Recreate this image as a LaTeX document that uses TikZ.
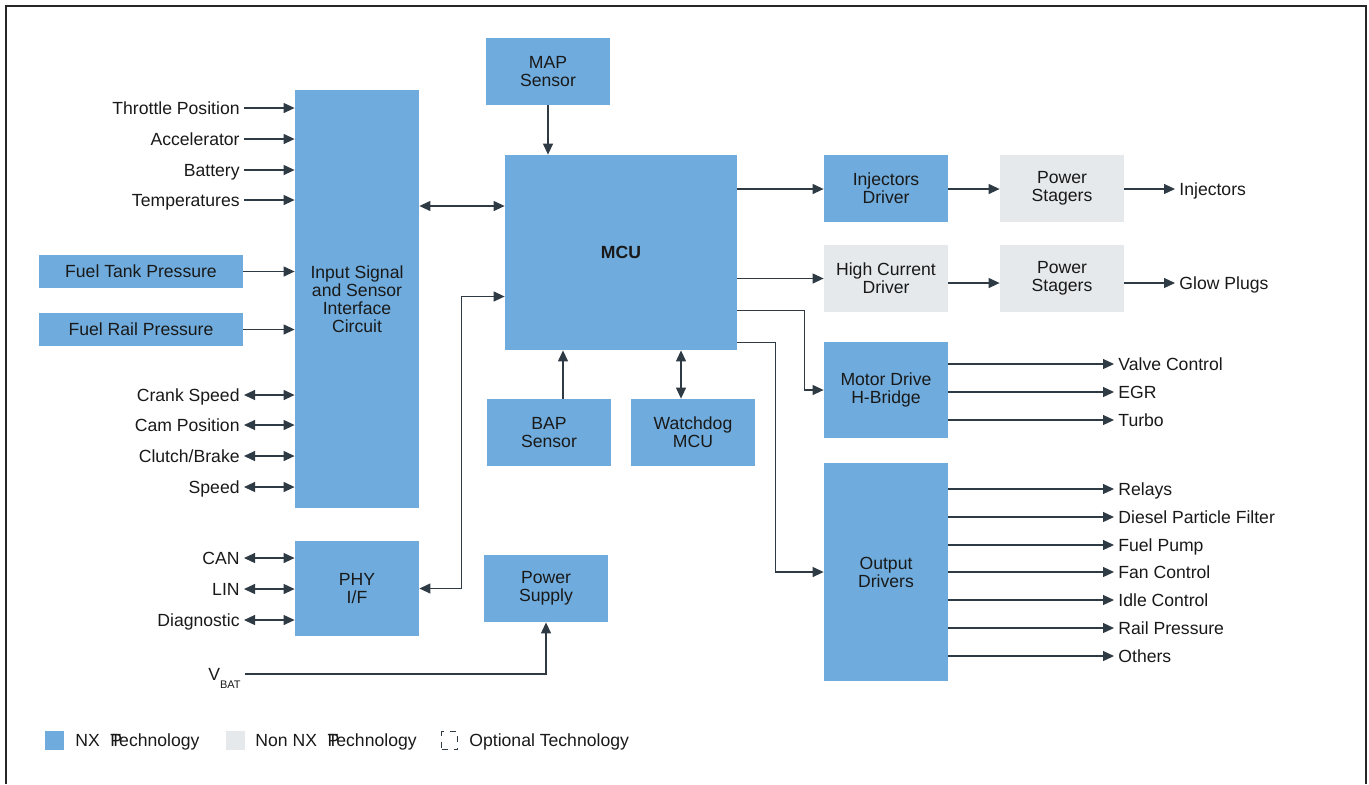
\documentclass[tikz,border=0pt]{standalone}
\usepackage{fontspec}
\setmainfont{Liberation Sans}
\usetikzlibrary{arrows.meta}
\definecolor{nxblue}{RGB}{111,172,221}
\definecolor{nongray}{RGB}{229,233,236}
\definecolor{wire}{RGB}{46,58,68}

\begin{document}
\begin{tikzpicture}[x=0.5pt,y=-0.5pt,>={Triangle[length=5.5pt,width=5pt]},
  every node/.append style={font=\fontsize{8.8}{9}\selectfont,text=black!90},
  blk/.style={fill=nxblue,inner sep=0pt,align=center,minimum width=62pt,minimum height=33.5pt},
  gblk/.style={blk,fill=nongray},
  lbl/.style={inner sep=2pt,text height=6.3pt,text depth=0pt},
  wires/.style={draw=wire,line width=0.6pt}]
  \useasboundingbox (0,0) rectangle (1369,784);
  \draw[line width=1.2pt,black!85] (6,784) -- (6,6) -- (1366,6) -- (1366,784);

  % blocks
  \node[blk] (map) at (548,71.5) {MAP\\Sensor};
  \node[blk,minimum height=209pt] (insig) at (357,299) {Input Signal\\and Sensor\\Interface\\Circuit};
  \node[blk,minimum width=116pt,minimum height=97.5pt] (mcu) at (621,252.5) {\textbf{MCU}};
  \node[blk] (injdrv) at (886,188.5) {Injectors\\Driver};
  \node[gblk] (stage1) at (1062,188.5) {Power\\Stagers};
  \node[gblk] (hcdrv) at (886,278.5) {High Current\\Driver};
  \node[gblk] (stage2) at (1062,278.5) {Power\\Stagers};
  \node[blk,minimum height=48pt] (motor) at (886,390) {Motor Drive\\H-Bridge};
  \node[blk,minimum height=109pt] (outdrv) at (886,572) {Output\\Drivers};
  \node[blk] (bap) at (549,432.5) {BAP\\Sensor};
  \node[blk] (wdog) at (693,432.5) {Watchdog\\MCU};
  \node[blk,minimum height=47.5pt] (phy) at (357,588.5) {PHY\\I/F};
  \node[blk] (psu) at (546,588.5) {Power\\Supply};
  \node[blk,minimum width=102pt,minimum height=16.5pt] (tank) at (141,271.5) {Fuel Tank Pressure};
  \node[blk,minimum width=102pt,minimum height=16.5pt] (rail) at (141,329.5) {Fuel Rail Pressure};

  % inputs
  \node[lbl,anchor=east] (throttle) at (244,108) {Throttle Position};
  \node[lbl,anchor=east] (accel) at (244,139) {Accelerator};
  \node[lbl,anchor=east] (batt) at (244,170) {Battery};
  \node[lbl,anchor=east] (temps) at (244,200) {Temperatures};
  \node[lbl,anchor=east] (crank) at (244,395) {Crank Speed};
  \node[lbl,anchor=east] (cam) at (244,425) {Cam Position};
  \node[lbl,anchor=east] (clutch) at (244,456) {Clutch/Brake};
  \node[lbl,anchor=east] (speed) at (244,487) {Speed};
  \node[lbl,anchor=east] (can) at (244,558) {CAN};
  \node[lbl,anchor=east] (lin) at (244,589) {LIN};
  \node[lbl,anchor=east] (diag) at (244,620) {Diagnostic};
  \node[lbl,anchor=east] (vbat) at (245,674) {V\raisebox{-0.9ex}{\fontsize{5.5}{6}\selectfont BAT}};

  \draw[wires,->] (throttle.east) -- (throttle.east -| insig.west);
  \draw[wires,->] (accel.east) -- (accel.east -| insig.west);
  \draw[wires,->] (batt.east) -- (batt.east -| insig.west);
  \draw[wires,->] (temps.east) -- (temps.east -| insig.west);
  \draw[wires,->] (tank.east) -- (tank.east -| insig.west);
  \draw[wires,->] (rail.east) -- (rail.east -| insig.west);
  \draw[wires,<->] (crank.east) -- (crank.east -| insig.west);
  \draw[wires,<->] (cam.east) -- (cam.east -| insig.west);
  \draw[wires,<->] (clutch.east) -- (clutch.east -| insig.west);
  \draw[wires,<->] (speed.east) -- (speed.east -| insig.west);
  \draw[wires,<->] (can.east) -- (can.east -| phy.west);
  \draw[wires,<->] (lin.east) -- (lin.east -| phy.west);
  \draw[wires,<->] (diag.east) -- (diag.east -| phy.west);
  \draw[wires,->] (vbat.east) -| (psu.south);

  % around the MCU
  \coordinate (mcuin) at ([yshift=23.25pt]mcu.west);
  \coordinate (mcuphy) at ([yshift=-22pt]mcu.west);
  \coordinate (mcumot) at ([yshift=-29pt]mcu.east);
  \coordinate (mcuout) at ([yshift=-45pt]mcu.east);
  \coordinate (bapup) at ([xshift=7pt]bap.north);
  \coordinate (wdup) at ([xshift=-6pt]wdog.north);
  \draw[wires,<->] (mcuin -| insig.east) -- (mcuin);
  \draw[wires,->] (map.south) -- (map.south |- mcu.north);
  \draw[wires,->] (bapup) -- (bapup |- mcu.south);
  \draw[wires,<->] (wdup) -- (wdup |- mcu.south);
  \draw[wires,<->] (phy.east) -- ++(42,0) |- (mcuphy);
  \draw[wires,->] (mcumot) -- ++(67,0) |- (motor.west);
  \draw[wires,->] (mcuout) -- ++(38,0) |- (outdrv.west);

  % outputs
  \node[lbl,anchor=west] (injout) at (1175,189) {Injectors};
  \node[lbl,anchor=west] (glow) at (1175,283) {Glow Plugs};
  \draw[wires,->] (injout.west -| mcu.east) -- (injout.west -| injdrv.west);
  \draw[wires,->] (injout.west -| injdrv.east) -- (injout.west -| stage1.west);
  \draw[wires,->] (injout.west -| stage1.east) -- (injout.west);
  \draw[wires,->] (hcdrv.west -| mcu.east) -- (hcdrv.west);
  \draw[wires,->] (glow.west -| hcdrv.east) -- (glow.west -| stage2.west);
  \draw[wires,->] (glow.west -| stage2.east) -- (glow.west);

  \node[lbl,anchor=west] (valve) at (1114,364) {Valve Control};
  \node[lbl,anchor=west] (egr) at (1114,392) {EGR};
  \node[lbl,anchor=west] (turbo) at (1114,420) {Turbo};
  \draw[wires,->] (motor.east |- valve.west) -- (valve.west);
  \draw[wires,->] (motor.east |- egr.west) -- (egr.west);
  \draw[wires,->] (motor.east |- turbo.west) -- (turbo.west);

  \node[lbl,anchor=west] (relays) at (1114,489) {Relays};
  \node[lbl,anchor=west] (dpf) at (1114,517) {Diesel Particle Filter};
  \node[lbl,anchor=west] (pump) at (1114,545) {Fuel Pump};
  \node[lbl,anchor=west] (fan) at (1114,572) {Fan Control};
  \node[lbl,anchor=west] (idle) at (1114,600) {Idle Control};
  \node[lbl,anchor=west] (railp) at (1114,628) {Rail Pressure};
  \node[lbl,anchor=west] (others) at (1114,656) {Others};
  \draw[wires,->] (outdrv.east |- relays.west) -- (relays.west);
  \draw[wires,->] (outdrv.east |- dpf.west) -- (dpf.west);
  \draw[wires,->] (outdrv.east |- pump.west) -- (pump.west);
  \draw[wires,->] (outdrv.east |- fan.west) -- (fan.west);
  \draw[wires,->] (outdrv.east |- idle.west) -- (idle.west);
  \draw[wires,->] (outdrv.east |- railp.west) -- (railp.west);
  \draw[wires,->] (outdrv.east |- others.west) -- (others.west);

  % legend
  \node[fill=nxblue,minimum size=9.5pt,inner sep=0pt] (keynx) at (54.5,740.5) {};
  \node[lbl,anchor=west] (keynxtxt) at (71,740.5) {NX\hspace{0.6em}\rlap{P}Technology};
  \node[fill=nongray,minimum size=9.5pt,inner sep=0pt] (keynon) at (235.5,740.5) {};
  \node[lbl,anchor=west] (keynontxt) at (251,740.5) {Non NX\hspace{0.6em}\rlap{P}Technology};
  \node[draw=wire,dashed,line width=0.5pt,minimum width=8pt,minimum height=9pt,inner sep=0pt] (keyopt) at (449.5,740.5) {};
  \node[lbl,anchor=west] (keyopttxt) at (465,740.5) {Optional Technology};
\end{tikzpicture}
\end{document}
